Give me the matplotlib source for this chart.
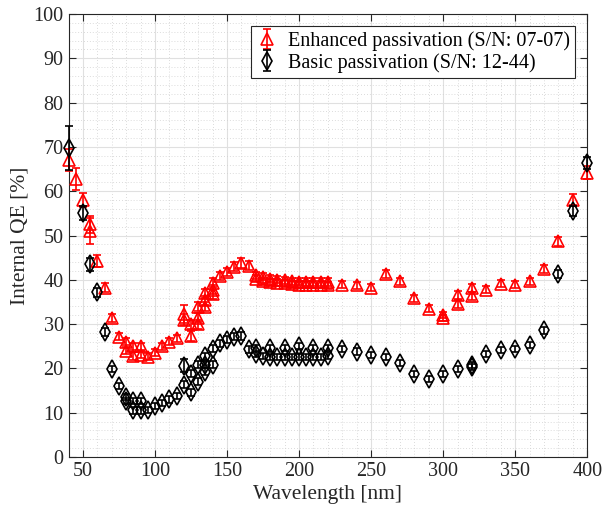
import matplotlib
matplotlib.use("Agg")
import matplotlib.pyplot as plt
from matplotlib.ticker import MultipleLocator
import numpy as np

plt.rcParams['font.family'] = ['Liberation Serif', 'DejaVu Serif']
plt.rcParams['font.size'] = 14

# Enhanced passivation (S/N: 07-07)
enh_wl = [40, 45, 50, 55, 55, 60, 65, 70, 75, 80, 80, 85, 85, 90, 90, 95, 100, 105, 110, 115,
          120, 120, 125, 125, 130, 130, 130, 135, 135, 135, 140, 140, 140, 145, 150, 155, 160, 165,
          170, 170, 175, 175, 180, 180, 185, 185, 190, 190, 195, 195, 200, 200, 205, 205,
          210, 210, 215, 215, 220, 220, 230, 240, 250, 260, 270, 280, 290, 300, 300,
          310, 310, 320, 320, 330, 340, 350, 360, 370, 380, 390, 400]
enh_qe = [67.0, 62.8, 58.1, 52.5, 51.0, 44.2, 38.2, 31.4, 27.2, 26.0, 24.0, 25.0, 22.8, 25.0, 23.1,
          22.6, 23.5, 25.0, 26.0, 26.8, 32.3, 31.0, 30.0, 27.3, 33.9, 31.4, 30.0, 37.0, 35.4, 33.9,
          39.3, 37.8, 36.7, 40.8, 41.7, 43.0, 43.8, 43.2, 41.0, 40.2, 40.7, 39.7, 40.2, 39.4,
          40.0, 39.3, 39.9, 39.2, 39.7, 39.0, 39.6, 38.9, 39.5, 38.9, 39.5, 38.9, 39.5, 38.9,
          39.5, 38.8, 38.9, 38.8, 38.2, 41.3, 39.7, 35.8, 33.5, 32.0, 31.4, 36.6, 34.5,
          38.2, 36.4, 37.8, 39.1, 38.9, 39.7, 42.5, 48.7, 58.1, 64.2]
enh_err = [2.5, 2.5, 1.6, 2.0, 3.0, 1.3, 1.0, 0.9, 0.8, 0.8, 0.8, 0.8, 0.8, 0.8, 0.8,
           0.8, 0.8, 0.8, 0.8, 0.8, 2.0, 1.2, 1.0, 1.2, 1.0, 1.0, 1.0, 1.0, 1.0, 1.0,
           1.0, 1.0, 1.0, 0.9, 0.9, 1.0, 1.2, 1.0, 0.8, 0.8, 0.8, 0.8, 0.8, 0.8,
           0.8, 0.8, 0.8, 0.8, 0.8, 0.8, 0.8, 0.8, 0.8, 0.8, 0.8, 0.8, 0.8, 0.8,
           0.8, 0.8, 0.8, 0.8, 0.8, 0.9, 0.8, 0.8, 0.8, 0.7, 0.7, 0.9, 0.9,
           0.9, 0.9, 0.8, 0.8, 0.8, 0.8, 0.9, 1.0, 1.3, 1.5]

# Basic passivation (S/N: 12-44)
bas_wl = [40, 50, 55, 60, 65, 70, 75, 80, 80, 85, 85, 90, 90, 95, 100, 105, 110, 115,
          120, 120, 125, 125, 130, 130, 135, 135, 135, 140, 140, 145, 150, 155, 160, 165,
          170, 170, 175, 180, 180, 185, 190, 190, 195, 200, 200, 205, 210, 210, 215, 220, 220,
          230, 240, 250, 260, 270, 280, 290, 300, 310, 320, 320, 330, 340, 350, 360, 370,
          380, 390, 400]
bas_qe = [69.8, 55.0, 43.5, 37.2, 28.2, 19.8, 16.1, 13.6, 12.6, 12.7, 10.5, 12.6, 10.5, 10.7,
          11.5, 12.2, 13.0, 13.8, 20.6, 16.3, 18.8, 14.6, 20.8, 17.0, 22.7, 20.8, 19.3,
          24.4, 20.8, 25.7, 26.5, 27.2, 27.4, 24.3, 24.5, 23.2, 22.8, 24.5, 22.6, 22.6,
          24.6, 22.6, 22.6, 25.0, 22.6, 22.6, 24.6, 22.6, 22.6, 24.6, 22.9,
          24.3, 23.8, 23.1, 22.5, 21.3, 18.8, 17.6, 18.8, 19.8, 20.8, 20.4, 23.2, 24.2,
          24.4, 25.2, 28.6, 41.4, 55.5, 66.4]
bas_err = [5.0, 1.6, 1.5, 1.0, 0.9, 0.7, 0.7, 0.7, 0.7, 0.7, 0.7, 0.7, 0.7, 0.7,
           0.7, 0.7, 0.7, 0.7, 1.5, 0.8, 0.8, 0.8, 0.8, 0.8, 0.8, 0.8, 0.8,
           0.8, 0.8, 0.8, 0.8, 0.8, 0.9, 0.8, 0.8, 0.7, 0.7, 0.7, 0.7, 0.7,
           0.7, 0.7, 0.7, 0.7, 0.7, 0.7, 0.7, 0.7, 0.7, 0.7, 0.7,
           0.7, 0.7, 0.7, 0.7, 0.7, 0.7, 0.7, 0.7, 0.7, 0.7, 0.7, 0.7, 0.7,
           0.7, 0.7, 0.8, 0.9, 1.2, 1.3]

fig = plt.figure(figsize=(6.02, 5.15), dpi=100)
ax = fig.add_axes([0.1138, 0.1126, 0.8618, 0.8602])

ax.errorbar(enh_wl, enh_qe, yerr=enh_err, fmt='^', color='red', mfc='none', mec='red',
            ms=9, mew=1.2, elinewidth=1.2, capsize=3, capthick=1.2, clip_on=False,
            label='Enhanced passivation (S/N: 07-07)', zorder=3)
ax.errorbar(bas_wl, bas_qe, yerr=bas_err, fmt='d', color='black', mfc='none', mec='black',
            ms=9, mew=1.2, elinewidth=1.2, capsize=3, capthick=1.2, clip_on=False,
            label='Basic passivation (S/N: 12-44)', zorder=4)

ax.set_xlim(40, 400)
ax.set_ylim(0, 100)
ax.xaxis.set_major_locator(MultipleLocator(50))
ax.xaxis.set_minor_locator(MultipleLocator(10))
ax.yaxis.set_major_locator(MultipleLocator(10))
ax.yaxis.set_minor_locator(MultipleLocator(2))

ax.grid(True, which='major', color='#e0e0e0', linestyle='-', linewidth=0.8)
ax.grid(True, which='minor', color='#cfcfcf', linestyle=(0, (1, 2.5)), linewidth=0.6)
ax.set_axisbelow(True)

ax.tick_params(which='major', direction='in', length=5, top=True, right=True,
               colors='#262626', labelsize=14.5, width=0.8)
ax.tick_params(which='minor', length=0)
for s in ax.spines.values():
    s.set_color('#262626')
    s.set_linewidth(0.8)

ax.set_xlabel('Wavelength [nm]', fontsize=15.5, color='#262626', labelpad=3)
ax.set_ylabel('Internal QE [%]', fontsize=15.5, color='#262626', labelpad=3)

leg = ax.legend(loc='upper right', fontsize=14.5, fancybox=False, framealpha=1,
                edgecolor='#262626', handlelength=1.1, borderpad=0.25,
                labelspacing=0.1, handletextpad=0.5, borderaxespad=0.6)
leg.get_frame().set_linewidth(0.8)

fig.savefig('out.png', dpi=100)
